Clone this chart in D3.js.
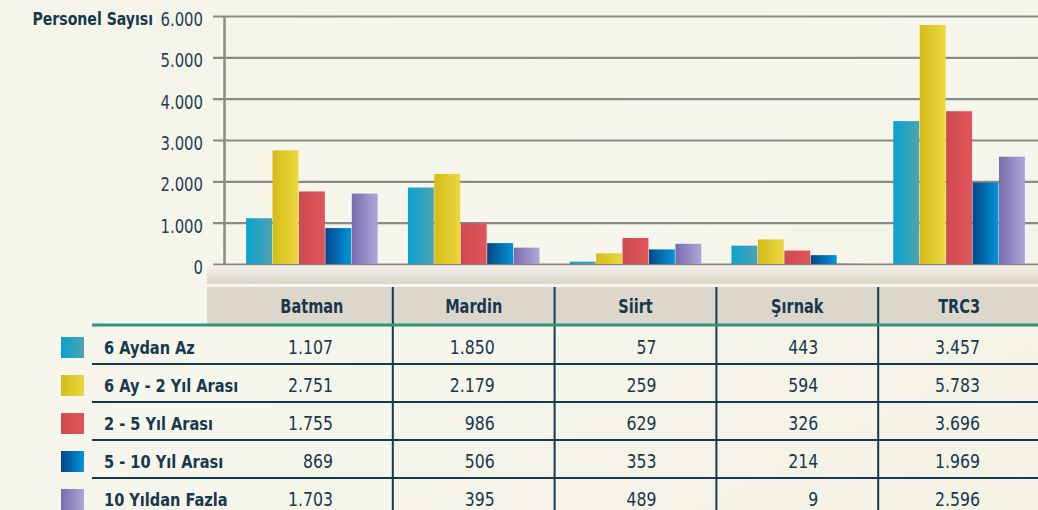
<!DOCTYPE html>
<html lang="tr">
<head>
<meta charset="UTF-8">
<title>Personel Sayısı</title>
<script src="https://d3js.org/d3.v7.min.js"></script>
<style>
    html, body { margin: 0; padding: 0; background: #f6f5ea; }
    text { font-family: 'Liberation Sans Narrow', 'DejaVu Sans Condensed', sans-serif; fill: #16394f; }
</style>
</head>
<body>
<script>
    const provinces = ["Batman", "Mardin", "Siirt", "Şırnak", "TRC3"];
    const seriesNames = ["6 Aydan Az", "6 Ay - 2 Yıl Arası", "2 - 5 Yıl Arası", "5 - 10 Yıl Arası", "10 Yıldan Fazla"];
    const aydanAz = [1107, 1850, 57, 443, 3457];
    const ay2Yil = [2751, 2179, 259, 594, 5783];
    const yil2_5 = [1755, 986, 629, 326, 3696];
    const yil5_10 = [869, 506, 353, 214, 1969];
    const yil10Fazla = [1703, 395, 489, 9, 2596];
    const yTicks = [0, 1000, 2000, 3000, 4000, 5000, 6000];

    const values = [aydanAz, ay2Yil, yil2_5, yil5_10, yil10Fazla];
    // gradient stops per series (left -> right)
    const colors = [
        ["#0aa2cf", "#4ea3b2"],
        ["#d4bd18", "#ecd840"],
        ["#cc4a50", "#e2555a"],
        ["#05468a", "#0097d8"],
        ["#7a6cae", "#aea6d8"]
    ];

    const width = 1038, height = 510;
    const fmt = v => d3.format(",")(v).replace(/,/g, ".");
    const SX = 0.87; // squeeze text, the original uses a condensed face

    // place a text at (x,y) and squeeze it horizontally around its anchor
    function squeeze(sel, fx, fy, sx) {
        sel.attr("x", 0).attr("y", 0)
            .attr("transform", (d, i) => `translate(${fx(d, i)},${fy(d, i)}) scale(${sx || SX},1)`);
    }

    const svg = d3.select("body").append("svg")
        .attr("width", width).attr("height", height);

    const defs = svg.append("defs");
    const bg = defs.append("linearGradient").attr("id", "bg")
        .attr("x1", 0).attr("y1", 0).attr("x2", 1).attr("y2", 1);
    bg.append("stop").attr("offset", 0).attr("stop-color", "#f5f4e8");
    bg.append("stop").attr("offset", 0.5).attr("stop-color", "#f7f6ec");
    bg.append("stop").attr("offset", 1).attr("stop-color", "#f4f2e4");

    colors.forEach(function(c, i) {
        const g = defs.append("linearGradient").attr("id", "s" + i)
            .attr("x1", 0).attr("y1", 0).attr("x2", 1).attr("y2", 0);
        g.append("stop").attr("offset", 0).attr("stop-color", c[0]);
        g.append("stop").attr("offset", 1).attr("stop-color", c[1]);
    });

    const floor = defs.append("linearGradient").attr("id", "floor")
        .attr("x1", 0).attr("y1", 0).attr("x2", 0).attr("y2", 1);
    floor.append("stop").attr("offset", 0).attr("stop-color", "#f3f1ea");
    floor.append("stop").attr("offset", 1).attr("stop-color", "#dcd6c8");

    svg.append("rect").attr("width", width).attr("height", height).attr("fill", "url(#bg)");

    const x0 = d3.scaleBand().domain(provinces).range([231, 1040])
        .paddingInner(0.18).paddingOuter(0.09);
    const x1 = d3.scaleBand().domain(d3.range(seriesNames.length))
        .range([0, x0.bandwidth()]).padding(0.02);
    const y = d3.scaleLinear().domain([0, 6000]).range([264, 16]);

    // grid + axis
    const yAxis = d3.axisLeft(y).tickValues(yTicks).tickFormat(fmt)
        .tickSize(-(width - 213)).tickPadding(0);
    const ag = svg.append("g").attr("transform", "translate(213,0)").call(yAxis);
    ag.select(".domain").remove();
    ag.selectAll(".tick line").attr("stroke", "#8b8a87").attr("stroke-width", 2.2);
    ag.selectAll(".tick text")
        .attr("dy", "0.42em").attr("fill", null)
        .style("font-size", "19px").style("fill", "#1e4058")
        .call(squeeze, () => -10, () => 1.5);
    svg.append("line").attr("x1", 224.5).attr("x2", 224.5)
        .attr("y1", y(6000)).attr("y2", y(0))
        .attr("stroke", "#8b8a87").attr("stroke-width", 2.5);

    svg.append("text").attr("text-anchor", "end")
        .style("font-size", "18px").style("font-weight", "bold")
        .text("Personel Sayısı")
        .call(squeeze, () => 153, () => 25);

    // bars
    svg.append("g").selectAll("g")
        .data(provinces).join("g")
        .attr("transform", p => `translate(${x0(p)},0)`)
        .each(function(p, pi) {
            d3.select(this).selectAll("rect")
                .data(values.map((s, si) => ({si: si, v: s[pi]})))
                .join("rect")
                .attr("x", d => x1(d.si))
                .attr("y", d => y(d.v))
                .attr("width", x1.bandwidth())
                .attr("height", d => y(0) - y(d.v))
                .attr("fill", d => `url(#s${d.si})`);
        });

    // floor
    svg.append("rect").attr("x", 207).attr("y", 265.5).attr("width", width - 207).attr("height", 18.5)
        .attr("fill", "url(#floor)");

    // table
    const rowTop = 326, rowH = 38;
    svg.append("rect").attr("x", 207).attr("y", 287).attr("width", width - 207).attr("height", 37)
        .attr("fill", "#ddd6ca");

    const bounds = provinces.slice(1).map(p => x0(p) - x0.step() * x0.paddingInner() / 2);
    svg.append("g").selectAll("line").data(bounds).join("line")
        .attr("x1", d => d).attr("x2", d => d)
        .attr("y1", 287).attr("y2", height)
        .attr("stroke", "#143a52").attr("stroke-width", 2);

    svg.append("g").selectAll("line").data(d3.range(1, seriesNames.length)).join("line")
        .attr("x1", 92).attr("x2", width)
        .attr("y1", i => rowTop + i * rowH).attr("y2", i => rowTop + i * rowH)
        .attr("stroke", "#143a52").attr("stroke-width", 2.2);

    svg.append("line").attr("x1", 92).attr("x2", width)
        .attr("y1", 325).attr("y2", 325)
        .attr("stroke", "#2a9580").attr("stroke-width", 3);

    svg.append("g").selectAll("text").data(provinces).join("text")
        .attr("text-anchor", "middle")
        .style("font-size", "19px").style("font-weight", "bold")
        .text(p => p)
        .call(squeeze, p => x0(p) + x0.bandwidth() / 2, () => 313, 0.85);

    const rows = svg.append("g").selectAll("g")
        .data(seriesNames).join("g")
        .attr("transform", (s, i) => `translate(0,${rowTop + i * rowH})`);

    rows.append("rect")
        .attr("x", 61).attr("y", 11).attr("width", 23).attr("height", 21)
        .attr("fill", (s, i) => `url(#s${i})`);

    rows.append("text")
        .style("font-size", "18px").style("font-weight", "bold")
        .text(s => s)
        .call(squeeze, () => 104, () => 28, 0.9);

    rows.each(function(s, si) {
        d3.select(this).selectAll("text.val")
            .data(values[si]).join("text")
            .attr("class", "val")
            .attr("text-anchor", "end")
            .style("font-size", "19px")
            .text(v => fmt(v))
            .call(squeeze, (v, pi) => x0(provinces[pi]) + x0.bandwidth() / 2 + 21, () => 28, 0.92);
    });
</script>
</body>
</html>
